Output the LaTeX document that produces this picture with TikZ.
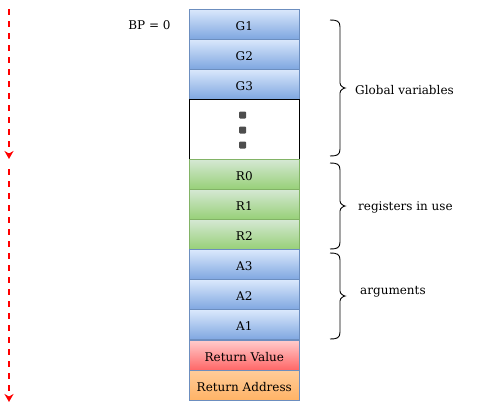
\documentclass[tikz,border=0pt]{standalone}
\usepackage{fontspec}
\setmainfont{DejaVu Serif}
\usetikzlibrary{arrows.meta}
\definecolor{bTop}{HTML}{DAE8FC}
\definecolor{bBot}{HTML}{7EA6E0}
\definecolor{bLine}{HTML}{6C8EBF}
\definecolor{gTop}{HTML}{D5E8D4}
\definecolor{gBot}{HTML}{97D077}
\definecolor{gLine}{HTML}{82B366}
\definecolor{rTop}{HTML}{FFCCCC}
\definecolor{rBot}{HTML}{FF6666}
\definecolor{oTop}{HTML}{FFCC99}
\definecolor{oBot}{HTML}{FFB366}
\definecolor{dotGray}{HTML}{4D4D4D}
\definecolor{arrRed}{HTML}{FF0000}
\tikzset{
  cell/.style={draw, line width=0.9pt, minimum width=110pt, minimum height=30pt,
    inner sep=0pt, text height=12pt, text depth=0pt, font=\fontsize{12}{14}\selectfont},
  bluecell/.style={cell, draw=bLine, top color=bTop, bottom color=bBot},
  greencell/.style={cell, draw=gLine, top color=gTop, bottom color=gBot},
  redcell/.style={cell, draw=bLine, top color=rTop, bottom color=rBot},
  orangecell/.style={cell, draw=bLine, top color=oTop, bottom color=oBot},
  gapcell/.style={draw=black, line width=1pt, fill=white, minimum width=110pt, minimum height=60pt, inner sep=0pt},
  dotsq/.style={fill=dotGray, rounded corners=1pt, minimum size=7pt, inner sep=0pt},
  bracestyle/.style={draw=black, line width=0.9pt},
  labeltext/.style={anchor=west, inner sep=0pt, font=\fontsize{12}{14}\selectfont},
  redarrow/.style={draw=arrRed, line width=1.5pt, dash pattern=on 6pt off 6pt,
    -{Stealth[length=8pt, width=9pt, inset=2.5pt]}}
}
\begin{document}
\begin{tikzpicture}[x=1pt, y=-1pt]
\useasboundingbox (0,0) rectangle (482,413);
% stack
\node[bluecell] (g1) at (244.3,24.3) {G1};
\node[bluecell] (g2) at (244.3,54.3) {G2};
\node[bluecell] (g3) at (244.3,84.3) {G3};
\node[gapcell] (gap) at (244.3,129.3) {};
\node[dotsq] (d1) at (242.7,115) {};
\node[dotsq] (d2) at (242.7,130) {};
\node[dotsq] (d3) at (242.7,145) {};
\node[greencell] (r0) at (244.3,174.5) {R0};
\node[greencell] (r1) at (244.3,204.5) {R1};
\node[greencell] (r2) at (244.3,234.5) {R2};
\node[bluecell] (a3) at (244.3,264.8) {A3};
\node[bluecell] (a2) at (244.3,294.8) {A2};
\node[bluecell] (a1) at (244.3,324.8) {A1};
\node[redcell] (rv) at (244.3,355.2) {Return Value};
\node[orangecell] (ra) at (244.3,385.2) {Return Address};
% BP label
\node[font=\fontsize{12}{14}\selectfont, inner sep=0pt, text height=12pt, text depth=0pt] (bp) at (149.5,23.5) {BP = 0};
% braces
\coordinate (gvT) at (330,20);
\coordinate (gvB) at (330,156);
\coordinate (rgT) at (330,163);
\coordinate (rgB) at (330,249);
\coordinate (arT) at (330,253);
\coordinate (arB) at (330,339);
\path[bracestyle] (gvT) .. controls ++(7,0) and ++(0,-6) .. ++(10,7) -- (340,83) .. controls ++(0,3) and ++(-1,0) .. (345,88) .. controls ++(-1,0) and ++(0,-3) .. (340,93) -- (340,149) .. controls ++(0,6) and ++(7,0) .. (gvB);
\path[bracestyle] (rgT) .. controls ++(7,0) and ++(0,-6) .. ++(10,7) -- (340,201) .. controls ++(0,3) and ++(-1,0) .. (345,206) .. controls ++(-1,0) and ++(0,-3) .. (340,211) -- (340,242) .. controls ++(0,6) and ++(7,0) .. (rgB);
\path[bracestyle] (arT) .. controls ++(7,0) and ++(0,-6) .. ++(10,7) -- (340,291) .. controls ++(0,3) and ++(-1,0) .. (345,296) .. controls ++(-1,0) and ++(0,-3) .. (340,301) -- (340,332) .. controls ++(0,6) and ++(7,0) .. (arB);
% brace labels
\node[labeltext] (gv) at (355,90) {Global variables};
\node[labeltext] (rg) at (358,207) {registers in use};
\node[labeltext] (ar) at (360,292) {arguments};
% red arrows
\coordinate (s1) at (9,9);
\coordinate (e1) at (9,159);
\coordinate (s2) at (9,169);
\coordinate (e2) at (9,402);
\draw[redarrow] (s1) -- (e1);
\draw[redarrow] (s2) -- (e2);
\end{tikzpicture}
\end{document}
